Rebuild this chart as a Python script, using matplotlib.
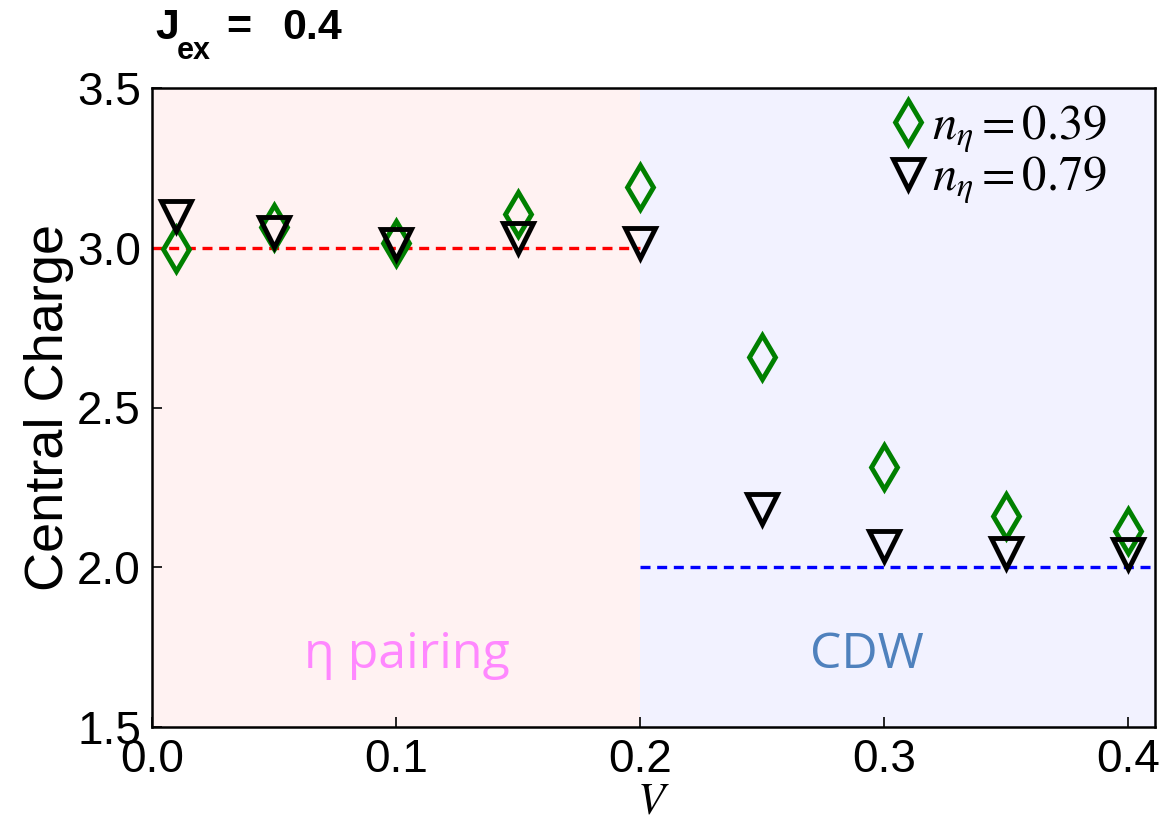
import matplotlib
matplotlib.use("Agg")
import matplotlib.pyplot as plt

V = [0.01, 0.05, 0.10, 0.15, 0.20, 0.25, 0.30, 0.35, 0.40]
c_039 = [2.995, 3.066, 3.015, 3.105, 3.19, 2.657, 2.313, 2.160, 2.114]
c_079 = [3.10, 3.05, 3.013, 3.03, 3.015, 2.181, 2.067, 2.045, 2.040]
labels = [r'$n_\eta=0.39$', r'$n_\eta=0.79$']
xticks = [0.0, 0.1, 0.2, 0.3, 0.4]
yticks = [1.5, 2.0, 2.5, 3.0, 3.5]
V_c = 0.2
xmax = 0.411

plt.rcParams['mathtext.fontset'] = 'custom'
plt.rcParams['mathtext.rm'] = 'STIXGeneral'
plt.rcParams['mathtext.it'] = 'STIXGeneral:italic'
plt.rcParams['mathtext.bf'] = 'STIXGeneral:bold'
plt.rcParams['font.family'] = ['Liberation Sans', 'DejaVu Sans']

W, H = 1176, 819
fig = plt.figure(figsize=(W/100, H/100), dpi=100)
ax = fig.add_axes([152/W, 1-727/H, (1155-152)/W, (727-88)/H])

ax.axvspan(0, V_c, color='red', alpha=0.05, lw=0)
ax.axvspan(V_c, xmax, color='blue', alpha=0.05, lw=0)
ax.plot([0, V_c], [3.0, 3.0], color='red', lw=2.4, ls=(0, (3.0, 2.0)))
ax.plot([V_c, xmax], [2.0, 2.0], color='blue', lw=2.4, ls=(0, (3.0, 2.0)))

h1, = ax.plot(V, c_039, ls='none', marker='d', ms=22, mfc='none', mec='green', mew=3.5, label=labels[0])
h2, = ax.plot(V, c_079, ls='none', marker='v', ms=22, mfc='none', mec='black', mew=3.5, label=labels[1])

ax.text(0.1045, 1.685, 'η pairing', color='#ff88ff', fontsize=36, family='Open Sans', ha='center', va='baseline')
ax.text(0.293, 1.685, 'CDW', color='#4f81bd', fontsize=36, family='Open Sans', ha='center', va='baseline')

ax.set_xlim(0, xmax)
ax.set_ylim(1.5, 3.5)
ax.set_xticks(xticks)
ax.set_yticks(yticks)
ax.set_xticklabels([f'{t:.1f}' for t in xticks])
ax.set_yticklabels([f'{t:.1f}' for t in yticks])
ax.tick_params(direction='in', labelsize=33, length=7, width=1.2, pad=8)
for s in ax.spines.values():
    s.set_linewidth(1.8)

ax.set_xlabel(r'$V$', fontsize=32, labelpad=-0.5)
ax.set_ylabel('Central Charge', fontsize=39, labelpad=2)

ax.legend(handles=[h1, h2], loc='upper right', frameon=False, fontsize=35,
          handlelength=0.8, handletextpad=0.1, labelspacing=0.0,
          borderaxespad=0.0, borderpad=0.0,
          bbox_to_anchor=((1107-152)/1003, 1-(103-88)/639))

# title pieces: J, subscript ex, "=", "0.4"
fig.text(155/W, 1-39/H, 'J', fontsize=31, fontweight='bold', va='baseline', ha='left')
fig.text(177/W, 1-59/H, 'ex', fontsize=22, fontweight='bold', va='baseline', ha='left')
fig.text(226/W, 1-39/H, '=', fontsize=31, fontweight='bold', va='baseline', ha='left')
fig.text(282/W, 1-39/H, '0.4', fontsize=31, fontweight='bold', va='baseline', ha='left')

fig.savefig('out.png', dpi=100)
